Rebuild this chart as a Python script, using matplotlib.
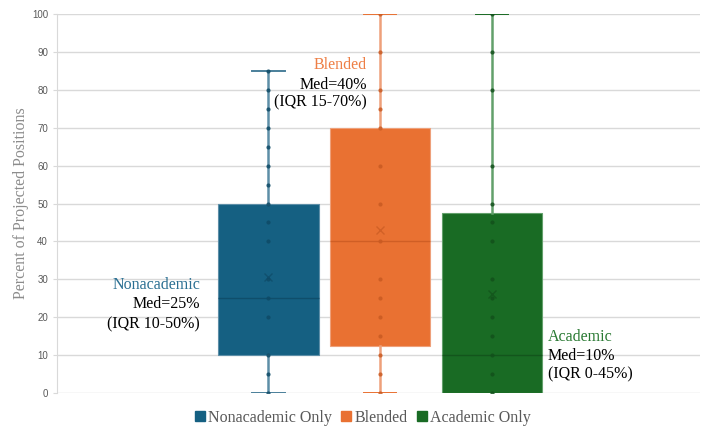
import matplotlib.pyplot as plt

# values (duplicates sit on top of each other in the chart)
categories = ["Nonacademic Only", "Blended", "Academic Only"]
nonacademic = [0, 0, 0, 0, 0, 0, 5, 5, 10, 10, 10, 10, 10, 20, 20, 20, 20, 25, 25, 25, 25,
               25, 25, 30, 30, 30, 40, 45, 45, 50, 50, 50, 50, 55, 60, 60, 65, 70, 75, 80, 85]
blended = [0, 0, 5, 5, 10, 10, 10, 10, 15, 15, 20, 20, 25, 30, 30, 40, 40, 50, 50, 60, 60,
           70, 70, 70, 75, 80, 80, 90, 90, 100, 100]
academic = [0, 0, 0, 0, 0, 0, 0, 0, 0, 0, 0, 5, 5, 10, 10, 10, 15, 20, 25, 25, 30, 40, 45,
            50, 50, 50, 60, 80, 90, 90, 100]
labels = [("Nonacademic", "Med=25%", "(IQR 10-50%)"),
          ("Blended", "Med=40%", "(IQR 15-70%)"),
          ("Academic", "Med=10%", "(IQR 0-45%)")]

box_colors = ["#156082", "#E97132", "#196B24"]
whisker_colors = ["#5d8ea7", "#eea07a", "#62a06b"]
cap_colors = ["#4a7f9a", "#E97132", "#196B24"]
dot_colors = ["#0e4a66", "#c95a22", "#12501b"]
title_colors = ["#2a6f92", "#ee7f45", "#2a7a33"]

fig = plt.figure(figsize=(7.05, 4.30), dpi=100)
ax = fig.add_axes([57 / 705, 37 / 430, 643 / 705, 379 / 430])

data = [nonacademic, blended, academic]
positions = [1, 2, 3]
bp = ax.boxplot(data, positions=positions, widths=0.9, patch_artist=True, showmeans=True,
                showfliers=False, capwidths=0.29, zorder=3)

for i, c in enumerate(box_colors):
    bp["boxes"][i].set(facecolor=c, edgecolor=whisker_colors[i], linewidth=0.8)
    bp["medians"][i].set(color=dot_colors[i], linewidth=1.0, alpha=0.8)
    for w in bp["whiskers"][2 * i:2 * i + 2]:
        w.set(color=whisker_colors[i], linewidth=1.8)
    for cap in bp["caps"][2 * i:2 * i + 2]:
        cap.set(color=cap_colors[i], linewidth=1.4)
    bp["means"][i].set(marker="x", markeredgecolor=dot_colors[i], markersize=6,
                       markeredgewidth=1.0, alpha=0.7)
    uniq = sorted(set(data[i]))
    ax.scatter([positions[i]] * len(uniq), uniq, s=9, color=dot_colors[i], zorder=4,
               alpha=0.85, linewidths=0)

ax.set_xlim(-0.89, 4.86)
ax.set_ylim(0, 100)
ax.set_yticks(range(0, 101, 10))
ax.set_xticks([])
ax.grid(axis="y", color="#d9d9d9", linewidth=1.0, zorder=0)
ax.set_axisbelow(True)
for s in ["top", "right", "bottom"]:
    ax.spines[s].set_visible(False)
ax.spines["left"].set_color("#d9d9d9")
ax.tick_params(axis="y", colors="#d9d9d9", labelcolor="#595959", labelsize=7, length=3)
for t in ax.get_yticklabels():
    t.set_family("Liberation Sans")

ax.set_ylabel("Percent of Projected Positions", family="Liberation Serif", fontsize=11.5,
              color="#8c8c8c", labelpad=2)

serif = "Liberation Serif"
# Nonacademic, right aligned
ax.text(0.39, 28.6, labels[0][0], ha="right", va="center", family=serif, fontsize=11.5,
        color=title_colors[0])
ax.text(0.39, 23.4, labels[0][1], ha="right", va="center", family=serif, fontsize=11.5)
ax.text(0.39, 18.1, labels[0][2], ha="right", va="center", family=serif, fontsize=11.5)
# Blended, right aligned
ax.text(1.88, 86.5, labels[1][0], ha="right", va="center", family=serif, fontsize=11.5,
        color=title_colors[1])
ax.text(1.88, 81.2, labels[1][1], ha="right", va="center", family=serif, fontsize=11.5)
ax.text(1.88, 76.8, labels[1][2], ha="right", va="center", family=serif, fontsize=11.5)
# Academic, left aligned
ax.text(3.50, 14.8, labels[2][0], ha="left", va="center", family=serif, fontsize=11.5,
        color=title_colors[2])
ax.text(3.50, 9.8, labels[2][1], ha="left", va="center", family=serif, fontsize=11.5)
ax.text(3.50, 4.8, labels[2][2], ha="left", va="center", family=serif, fontsize=11.5)

handles = [plt.Line2D([], [], marker="s", linestyle="", color=c, markersize=7)
           for c in box_colors]
fig.legend(handles, categories, loc="center", bbox_to_anchor=(362 / 705, 1 - 418 / 430),
           ncol=3, frameon=False, handletextpad=0.1, columnspacing=0.5, handlelength=0.8,
           prop={"family": serif, "size": 11.5}, labelcolor="#595959")

fig.savefig("out.png", dpi=100)
